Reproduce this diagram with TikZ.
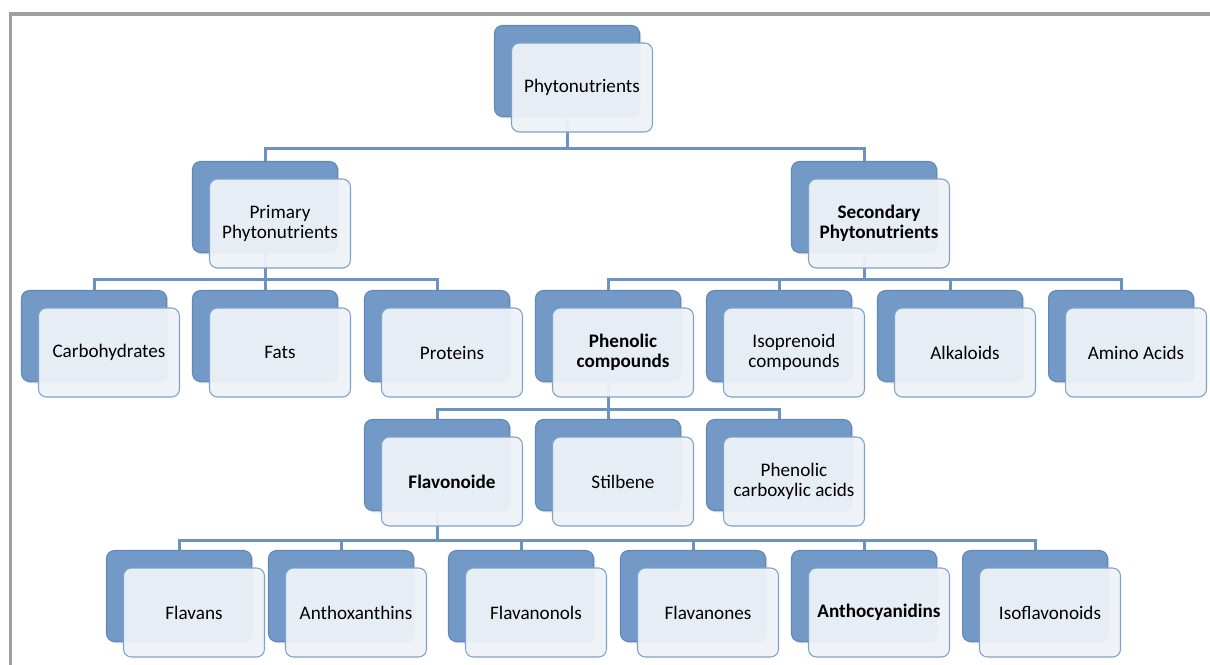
\documentclass[tikz,border=0pt]{standalone}
\usepackage{fontspec}
\setmainfont{Carlito}
\usetikzlibrary{shadows}

\definecolor{boxblue}{HTML}{7399C6}
\definecolor{boxline}{HTML}{6088B8}
\definecolor{frontfill}{HTML}{EEF2F7}
\definecolor{frontline}{HTML}{7EA2CB}
\definecolor{connblue}{HTML}{6B92C2}
\definecolor{framegray}{HTML}{A0A0A0}

\pgfdeclarelayer{bg}
\pgfsetlayers{bg,main}

% back box + front box with the text
\newcommand{\duo}[4]{%
    \node[backbox] (#1-b) at (#2,#3) {};
    \node[frontbox] (#1) at ([shift={(15,16.5)}]#1-b) {#4};
}

\begin{document}
\begin{tikzpicture}[
        x=0.02cm, y=-0.02cm, % pixel grid, y down
        backbox/.style={rectangle, rounded corners=4.5pt, fill=boxblue, draw=boxline, line width=0.6pt,
                minimum width=2.9cm, minimum height=1.82cm,
                drop shadow={shadow xshift=1pt, shadow yshift=-1pt, opacity=0.3}},
        frontbox/.style={rectangle, rounded corners=4.5pt, fill=frontfill, fill opacity=0.95, text opacity=1,
                draw=frontline, line width=0.6pt, minimum width=2.82cm, minimum height=1.78cm,
                align=center, font=\fontsize{10.9}{11.6}\selectfont},
        conn/.style={draw=connblue, line width=0.06cm},
    ]
    \useasboundingbox (0,0) rectangle (1210,664);
    \draw[framegray, line width=0.07cm] (10.5,700) -- (10.5,14) -- (1250,14);

    % levels
    \duo{phyto}{567}{71}{Phytonutrients}

    \duo{prim}{265}{207}{Primary\\Phytonutrients}
    \duo{sec}{864}{207}{\textbf{Secondary}\\\textbf{Phytonutrients}}

    \duo{carb}{94}{336}{Carbohydrates}
    \duo{fats}{265}{336}{Fats}
    \duo{prot}{437}{336}{Proteins}
    \duo{phen}{608}{336}{\textbf{Phenolic}\\\textbf{compounds}}
    \duo{isop}{779}{336}{Isoprenoid\\compounds}
    \duo{alka}{950}{336}{Alkaloids}
    \duo{amino}{1121}{336}{Amino Acids}

    \duo{flavo}{437}{465}{\textbf{Flavonoide}}
    \duo{stil}{608}{465}{Stilbene}
    \duo{carbox}{779}{465}{Phenolic\\carboxylic acids}

    \duo{flavans}{179}{596}{Flavans}
    \duo{anthox}{341}{596}{Anthoxanthins}
    \duo{flavanol}{521}{596}{Flavanonols}
    \duo{flavanon}{693}{596}{Flavanones}
    \duo{antho}{864}{596}{\textbf{Anthocyanidins}}
    \duo{isofl}{1035}{596}{Isoflavonoids}

    % forks
    \coordinate (bar0) at (0,148);
    \coordinate (bar1) at (0,279);
    \coordinate (bar2) at (0,409);
    \coordinate (bar3) at (0,540);
    \begin{pgfonlayer}{bg}
        \foreach \c in {prim,sec}
            \draw[conn] (phyto-b.south) -- (phyto-b.south |- bar0) -| (\c-b.north);
        \foreach \c in {carb,fats,prot}
            \draw[conn] (prim-b.south) -- (prim-b.south |- bar1) -| (\c-b.north);
        \foreach \c in {phen,isop,alka,amino}
            \draw[conn] (sec-b.south) -- (sec-b.south |- bar1) -| (\c-b.north);
        \foreach \c in {flavo,stil,carbox}
            \draw[conn] (phen-b.south) -- (phen-b.south |- bar2) -| (\c-b.north);
        \foreach \c in {flavans,anthox,flavanol,flavanon,antho,isofl}
            \draw[conn] (flavo-b.south) -- (flavo-b.south |- bar3) -| (\c-b.north);
    \end{pgfonlayer}
\end{tikzpicture}
\end{document}
